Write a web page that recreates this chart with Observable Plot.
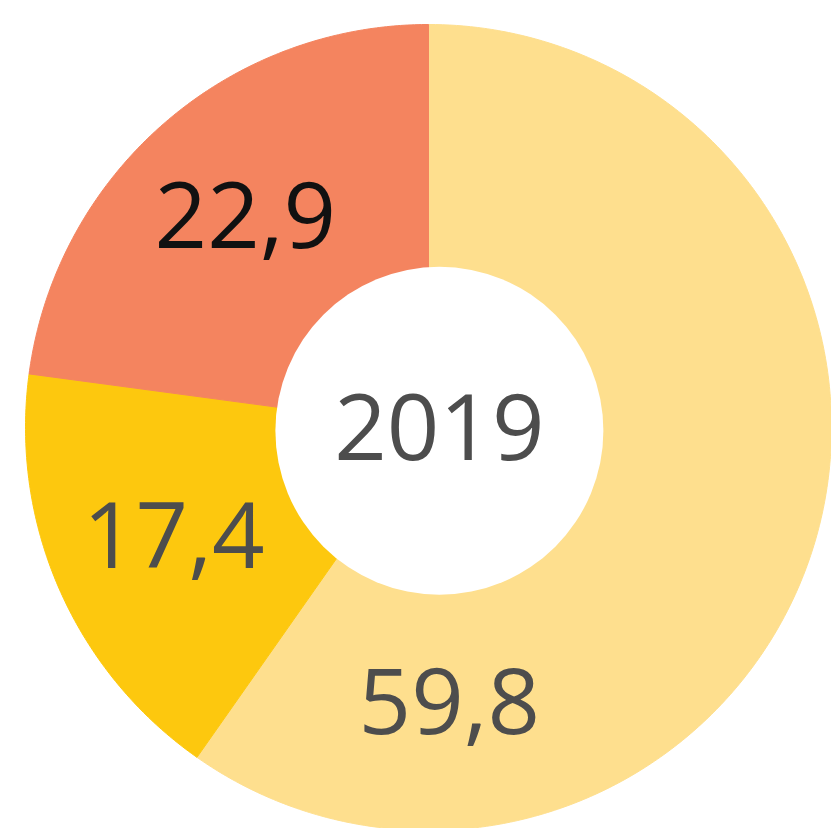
<!DOCTYPE html>
<html>
<head>
<meta charset="utf-8">
<script src="https://cdn.jsdelivr.net/npm/d3@7"></script>
<script src="https://cdn.jsdelivr.net/npm/@observablehq/plot@0.6"></script>
<style>
  html, body { margin: 0; padding: 0; background: #fff; overflow: hidden; }
  #chart svg { display: block; }
</style>
</head>
<body>
<div id="chart"></div>
<script>
// ---- data ----
const categories = ["Segment A", "Segment B", "Segment C"];
const values = [59.8, 17.4, 22.9];
const valueLabels = ["59,8", "17,4", "22,9"];
const centerLabel = "2019";

// ---- styles ----
const sliceColors = ["#FEDF8E", "#FDC80E", "#F4845F"];
const labelColors = ["#4d4d4d", "#4d4d4d", "#111111"];

// ---- layout ----
const labelRadius = 0.69;
const labelAngleOverride = [175.7, null, null]; // degrees clockwise from top
const holeRadiusPx = 164;
const holeCenter = {x: 0.027, y: 0.008};
const fontSize = 92;

const total = d3.sum(values);
const toRad = Math.PI / 180;

// build wedge polygons from the data
let acc = 0;
const slices = values.map((v, i) => {
  const a0 = acc / total * 2 * Math.PI;
  acc += v;
  const a1 = acc / total * 2 * Math.PI;
  const n = Math.max(2, Math.ceil((a1 - a0) / toRad) * 2);
  const pts = [{x: 0, y: 0}];
  for (let k = 0; k <= n; k++) {
    const a = a0 + (a1 - a0) * k / n;
    pts.push({x: Math.sin(a), y: -Math.cos(a)});
  }
  pts.push({x: 0, y: 0});
  const mid = labelAngleOverride[i] != null ? labelAngleOverride[i] * toRad : (a0 + a1) / 2;
  return {
    category: categories[i], value: v, label: valueLabels[i],
    color: sliceColors[i], labelColor: labelColors[i],
    pts, lx: labelRadius * Math.sin(mid), ly: -labelRadius * Math.cos(mid)
  };
});

const marks = [];
slices.forEach(s => {
  marks.push(Plot.line(s.pts, {x: "x", y: "y", fill: s.color, stroke: s.color, strokeWidth: 1, curve: "linear"}));
});
marks.push(Plot.dot([holeCenter], {x: "x", y: "y", r: holeRadiusPx, fill: "white", stroke: "none"}));
marks.push(Plot.text(slices, {
  x: "lx", y: "ly", text: "label", fill: d => d.labelColor,
  fontSize, fontFamily: "Open Sans", textAnchor: "middle", lineAnchor: "middle"
}));
marks.push(Plot.text([{...holeCenter, t: centerLabel}], {
  x: "x", y: "y", text: "t", fill: "#4d4d4d",
  fontSize, fontFamily: "Open Sans", textAnchor: "middle", lineAnchor: "middle"
}));

const chart = Plot.plot({
  width: 831,
  height: 828,
  margin: 0,
  style: {background: "white", overflow: "hidden"},
  x: {domain: [-1, 1], range: [25, 831], axis: null},
  y: {domain: [-1, 1], range: [24, 830], axis: null},
  color: {type: "identity"},
  marks
});
document.getElementById("chart").appendChild(chart);
</script>
</body>
</html>
